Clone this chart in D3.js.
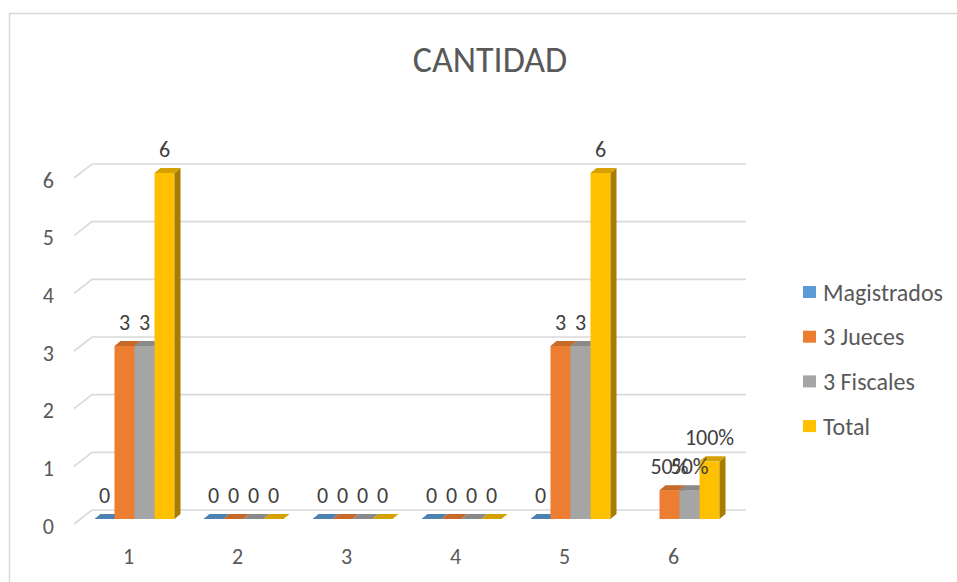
<!DOCTYPE html>
<html>
<head>
<meta charset="utf-8">
<script src="https://cdn.jsdelivr.net/npm/d3@7/dist/d3.min.js"></script>
<style>
  body { margin: 0; background: #fff; }
  svg text { font-family: Calibri, Carlito, Lato, sans-serif; }
</style>
</head>
<body>
<div id="chart"></div>
<script>
// --- data
var categories = ["1", "2", "3", "4", "5", "6"];
var seriesNames = ["Magistrados", "3 Jueces", "3 Fiscales", "Total"];
var magistrados = [0, 0, 0, 0, 0, null];
var jueces      = [3, 0, 0, 0, 3, 0.5];
var fiscales    = [3, 0, 0, 0, 3, 0.5];
var total       = [6, 0, 0, 0, 6, 1];
var yTicks = [0, 1, 2, 3, 4, 5, 6];
var percentCategory = "6";   // last group is shown as percentages
var colors = ["#5B9BD5", "#ED7D31", "#A5A5A5", "#FFC000"];

var seriesValues = [magistrados, jueces, fiscales, total];

var W = 957, H = 582;
var svg = d3.select("#chart").append("svg")
    .attr("width", W)
    .attr("height", H);

// chart frame
svg.append("rect")
    .attr("x", 9.5).attr("y", 13.5)
    .attr("width", 980).attr("height", 600)
    .attr("fill", "#fff")
    .attr("stroke", "#D9D9D9")
    .attr("stroke-width", 1.5);

// title (Calibri Light look)
svg.append("text")
    .attr("x", 490).attr("y", 60)
    .attr("text-anchor", "middle")
    .attr("dominant-baseline", "central")
    .attr("fill", "#595959")
    .style("font-size", "36px")
    .style("font-weight", 300)
    .text("CANTIDAD");

// scales (bar plane), depth offsets for the 3D look
var x = d3.scaleBand()
    .domain(categories)
    .range([80, 734])
    .paddingInner(0.266)
    .paddingOuter(0.133);

var xs = d3.scaleBand()
    .domain(seriesNames)
    .range([0, x.bandwidth()]);

var y = d3.scaleLinear()
    .domain([0, 6])
    .range([519, 173]);

var front = {dx: -6, dy: 5};
var back = {dx: 12, dy: -9};
var bar = {dx: 6, dy: -5};

// gridlines: side diagonal + back wall line
svg.append("g")
  .selectAll("path")
  .data(yTicks).enter()
  .append("path")
    .attr("fill", "none")
    .attr("stroke", "#D9D9D9")
    .attr("stroke-width", 1.6)
    .attr("d", function(d) {
      var yy = y(d);
      return "M" + (x.range()[0] + front.dx) + "," + (yy + front.dy) +
             "L" + (x.range()[0] + back.dx) + "," + (yy + back.dy) +
             "L" + (x.range()[1] + back.dx) + "," + (yy + back.dy);
    });

// y axis labels
svg.append("g")
  .selectAll("text")
  .data(yTicks).enter()
  .append("text")
    .attr("x", 54)
    .attr("y", function(d) { return y(d) + front.dy + 2; })
    .attr("text-anchor", "end")
    .attr("dominant-baseline", "central")
    .attr("fill", "#595959")
    .style("font-size", "22px")
    .text(function(d) { return d; });

// x axis labels
svg.append("g")
  .selectAll("text")
  .data(categories).enter()
  .append("text")
    .attr("x", function(d) { return x(d) + x.bandwidth() / 2 + front.dx; })
    .attr("y", 556)
    .attr("text-anchor", "middle")
    .attr("dominant-baseline", "central")
    .attr("fill", "#595959")
    .style("font-size", "22px")
    .text(function(d) { return d; });

// bars
var points = [];
categories.forEach(function(c, i) {
  seriesNames.forEach(function(s, j) {
    var v = seriesValues[j][i];
    if (v === null) return;
    points.push({cat: c, series: s, value: v, color: colors[j]});
  });
});

var bars = svg.append("g")
  .selectAll("g")
  .data(points).enter()
  .append("g");

function pts(a) { return a.map(function(p) { return p.join(","); }).join(" "); }

bars.each(function(d) {
  var g = d3.select(this);
  var x0 = x(d.cat) + xs(d.series), w = xs.bandwidth();
  var yt = y(d.value), yb = y(0);
  g.append("rect")
      .attr("x", x0).attr("y", yt)
      .attr("width", w).attr("height", yb - yt)
      .attr("fill", d.color);
  g.append("polygon")
      .attr("points", pts([[x0 + w, yt], [x0 + w + bar.dx, yt + bar.dy],
                           [x0 + w + bar.dx, yb + bar.dy], [x0 + w, yb]]))
      .attr("fill", d3.color(d.color).darker(1.2));
  g.append("polygon")
      .attr("points", pts([[x0, yt], [x0 + bar.dx, yt + bar.dy],
                           [x0 + w + bar.dx, yt + bar.dy], [x0 + w, yt]]))
      .attr("fill", d3.color(d.color).darker(0.5));
});

// data labels
var pct = d3.format(".0%");
svg.append("g")
  .selectAll("text")
  .data(points).enter()
  .append("text")
    .attr("x", function(d) { return x(d.cat) + xs(d.series) + xs.bandwidth() / 2; })
    .attr("y", function(d) { return y(d.value) - 24; })
    .attr("text-anchor", "middle")
    .attr("dominant-baseline", "central")
    .attr("fill", "#404040")
    .style("font-size", "22px")
    .text(function(d) { return d.cat === percentCategory ? pct(d.value) : d.value; });

// legend
var legend = svg.append("g")
  .selectAll("g")
  .data(seriesNames).enter()
  .append("g")
    .attr("transform", function(d, i) { return "translate(803," + (292 + i * 44.7) + ")"; });

legend.append("rect")
    .attr("x", 0).attr("y", -6)
    .attr("width", 13).attr("height", 12)
    .attr("fill", function(d, i) { return colors[i]; });

legend.append("text")
    .attr("x", 20).attr("y", 0)
    .attr("dominant-baseline", "central")
    .attr("fill", "#595959")
    .style("font-size", "24px")
    .text(function(d) { return d; });
</script>
</body>
</html>
